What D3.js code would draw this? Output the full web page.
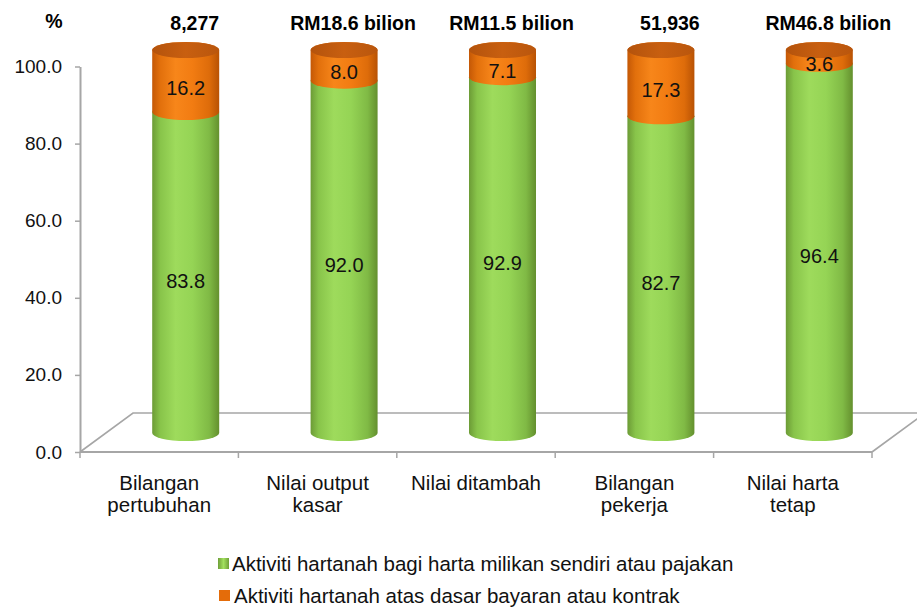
<!DOCTYPE html>
<html>
<head>
<meta charset="utf-8">
<script src="https://cdn.jsdelivr.net/npm/d3@7"></script>
<style>
  body { margin: 0; background: #fff; }
  svg { display: block; font-family: "Liberation Sans", Arial, sans-serif; }
</style>
</head>
<body>
<svg id="chart" width="917" height="607"></svg>
<script>
// data
const categories = ['Bilangan pertubuhan', 'Nilai output kasar', 'Nilai ditambah', 'Bilangan pekerja', 'Nilai harta tetap'];
const catLines = [['Bilangan', 'pertubuhan'], ['Nilai output', 'kasar'], ['Nilai ditambah'], ['Bilangan', 'pekerja'], ['Nilai harta', 'tetap']];
const ownValues = [83.8, 92.0, 92.9, 82.7, 96.4];
const contractValues = [16.2, 8.0, 7.1, 17.3, 3.6];
const totals = ['8,277', 'RM18.6 bilion', 'RM11.5 bilion', '51,936', 'RM46.8 bilion'];
const yTicks = [0, 20, 40, 60, 80, 100];
const seriesNames = [
  'Aktiviti hartanah bagi harta milikan sendiri atau pajakan',
  'Aktiviti hartanah atas dasar bayaran atau kontrak'
];

const svg = d3.select('#chart');

// gradients for the cylinders
const defs = svg.append('defs');
const makeGrad = (id, stops) => {
  let g = defs.append('linearGradient')
  .attr('id', id)
  .attr('x1', '0%').attr('x2', '100%')
  .attr('y1', '0%').attr('y2', '0%');
  stops.forEach(s => {
    g.append('stop').attr('offset', s[0]).attr('stop-color', s[1]);
  });
};
makeGrad('gGreen', [['0%', '#6c9b36'], ['12%', '#88c44a'], ['35%', '#9edb5c'], ['60%', '#95d455'], ['85%', '#80ba45'], ['100%', '#64902e']]);
makeGrad('gOrange', [['0%', '#c45806'], ['12%', '#e2700c'], ['35%', '#f7861a'], ['60%', '#f27c12'], ['85%', '#de6c0a'], ['100%', '#b85204']]);
makeGrad('gTop', [['0%', '#b4530c'], ['50%', '#c85f10'], ['100%', '#b9560d']]);
makeGrad('gLegend', [['0%', '#6f9f38'], ['50%', '#a2e05f'], ['100%', '#6f9f38']]);

// scales
const x = d3.scaleBand().domain(categories).range([80, 872]);
const y = d3.scaleLinear().domain([0, 100]).range([452, 66.5]);
const yc = d3.scaleLinear().domain([0, 100]).range([433, 50]);
const depthX = 53, depthY = -39;
const rx = 33.5, ry = 8;
const cxOf = (c) => x(c) + x.bandwidth() / 2 + depthX / 2;

// floor
const floor = svg.append('g').attr('stroke', '#a6a6a6').attr('stroke-width', 1.6).attr('fill', 'none');
floor.append('path')
  .attr('d', `M${x.range()[0]},${y(0)} L${x.range()[0] + depthX},${y(0) + depthY} L${x.range()[1] + depthX},${y(0) + depthY} L${x.range()[1]},${y(0)}`);

// y axis
const yAxis = svg.append('g')
  .attr('transform', `translate(${x.range()[0]},0)`)
  .call(d3.axisLeft(y).tickValues(yTicks).tickFormat(d3.format('.1f')).tickSize(5).tickSizeOuter(0).tickPadding(13));
yAxis.select('.domain').attr('stroke', '#a6a6a6').attr('stroke-width', 2);
yAxis.selectAll('.tick line').attr('stroke', '#a6a6a6').attr('stroke-width', 1.5);
yAxis.selectAll('.tick text')
  .attr('font-size', 19)
  .attr('font-family', '"Liberation Sans", Arial, sans-serif')
  .attr('fill', '#111');

// x axis line and ticks
const xEdges = categories.map(c => x(c)).concat([x.range()[1]]);
svg.append('line')
  .attr('x1', x.range()[0]).attr('x2', x.range()[1])
  .attr('y1', y(0)).attr('y2', y(0))
  .attr('stroke', '#a6a6a6').attr('stroke-width', 2);
svg.selectAll('.xtick')
  .data(xEdges)
  .enter()
  .append('line')
  .attr('class', 'xtick')
  .attr('x1', d => d).attr('x2', d => d)
  .attr('y1', y(0)).attr('y2', y(0) + 6)
  .attr('stroke', '#a6a6a6').attr('stroke-width', 1.5);

// category labels
categories.forEach((c, i) => {
  let t = svg.append('text')
  .attr('x', x(c) + x.bandwidth() / 2)
  .attr('y', 490)
  .attr('text-anchor', 'middle')
  .attr('font-size', 20.5)
  .attr('fill', '#111');
  catLines[i].forEach((line, j) => {
    t.append('tspan')
    .attr('x', x(c) + x.bandwidth() / 2)
    .attr('dy', j === 0 ? 0 : 21.5)
    .text(line);
  });
});

// one cylinder segment: side + bottom curve + back top curve
const segPath = (cx, yTop, yBot) =>
  `M${cx - rx},${yTop} L${cx - rx},${yBot} A${rx},${ry} 0 0 0 ${cx + rx},${yBot} ` +
  `L${cx + rx},${yTop} A${rx},${ry} 0 0 0 ${cx - rx},${yTop} Z`;

categories.forEach((c, i) => {
  let cx = cxOf(c);
  let g = svg.append('g');
  let own = ownValues[i];
  let con = contractValues[i];

  g.append('path')
  .attr('d', segPath(cx, yc(own), yc(0)))
  .attr('fill', 'url(#gGreen)');

  g.append('path')
  .attr('d', segPath(cx, yc(own + con), yc(own)))
  .attr('fill', 'url(#gOrange)');

  g.append('ellipse')
  .attr('cx', cx)
  .attr('cy', yc(own + con))
  .attr('rx', rx)
  .attr('ry', ry)
  .attr('fill', 'url(#gTop)');

  g.append('text')
  .attr('x', cx)
  .attr('y', (yc(0) + yc(own)) / 2 + 8)
  .attr('dy', '0.35em')
  .attr('text-anchor', 'middle')
  .attr('font-size', 20)
  .attr('fill', '#111')
  .text(d3.format('.1f')(own));

  g.append('text')
  .attr('x', cx)
  .attr('y', (yc(own) + yc(own + con)) / 2 + 7)
  .attr('dy', '0.35em')
  .attr('text-anchor', 'middle')
  .attr('font-size', 20)
  .attr('fill', '#111')
  .text(d3.format('.1f')(con));

  svg.append('text')
  .attr('x', cx + 9)
  .attr('y', 30)
  .attr('text-anchor', 'middle')
  .attr('font-size', 19.5)
  .attr('font-weight', 'bold')
  .attr('fill', '#000')
  .text(totals[i]);
});

// unit label
svg.append('text')
  .attr('x', 54)
  .attr('y', 28)
  .attr('text-anchor', 'middle')
  .attr('font-size', 19.5)
  .attr('font-weight', 'bold')
  .text('%');

// legend
const legendFills = ['url(#gLegend)', '#e46c0a'];
const legendY = [571, 603];
seriesNames.forEach((name, i) => {
  svg.append('rect')
  .attr('x', 218 + i)
  .attr('y', legendY[i] - 13)
  .attr('width', 11)
  .attr('height', 11)
  .attr('fill', legendFills[i]);

  svg.append('text')
  .attr('x', 232 + i * 2)
  .attr('y', legendY[i])
  .attr('font-size', 20.5)
  .attr('fill', '#111')
  .text(name);
});
</script>
</body>
</html>
